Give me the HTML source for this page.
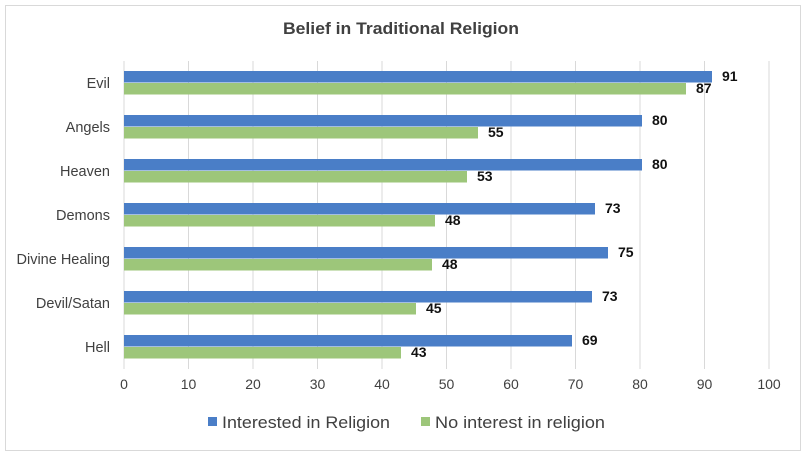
<!DOCTYPE html>
<html><head><meta charset="utf-8"><style>
body{margin:0;background:#fff}
svg text{font-family:"Liberation Sans",Arial,sans-serif}
</style></head><body>
<svg width="807" height="457" viewBox="0 0 807 457" xmlns="http://www.w3.org/2000/svg">
<rect x="0" y="0" width="807" height="457" fill="#fff"/>
<rect x="5.5" y="5.5" width="795" height="445" fill="#fff" stroke="#d9d9d9" stroke-width="1"/>
<text x="283" y="34" font-size="17" font-weight="bold" fill="#404040" textLength="236" lengthAdjust="spacingAndGlyphs">Belief in Traditional Religion</text>
<g stroke="#d9d9d9" stroke-width="1">
<line x1="124" y1="61" x2="124" y2="369"/><line x1="188.5" y1="61" x2="188.5" y2="369"/><line x1="253" y1="61" x2="253" y2="369"/><line x1="317.5" y1="61" x2="317.5" y2="369"/><line x1="382" y1="61" x2="382" y2="369"/><line x1="446.5" y1="61" x2="446.5" y2="369"/><line x1="511" y1="61" x2="511" y2="369"/><line x1="575.5" y1="61" x2="575.5" y2="369"/><line x1="640" y1="61" x2="640" y2="369"/><line x1="704.5" y1="61" x2="704.5" y2="369"/><line x1="769" y1="61" x2="769" y2="369"/>
</g>
<g fill="#4a7ec7">
<rect x="124" y="71" width="588" height="11.5"/>
<rect x="124" y="115" width="518" height="11.5"/>
<rect x="124" y="159" width="518" height="11.5"/>
<rect x="124" y="203" width="471" height="11.5"/>
<rect x="124" y="247" width="484" height="11.5"/>
<rect x="124" y="291" width="468" height="11.5"/>
<rect x="124" y="335" width="448" height="11.5"/>
</g>
<g fill="#9dc67a">
<rect x="124" y="83" width="562" height="11.5"/>
<rect x="124" y="127" width="354" height="11.5"/>
<rect x="124" y="171" width="343" height="11.5"/>
<rect x="124" y="215" width="311" height="11.5"/>
<rect x="124" y="259" width="308" height="11.5"/>
<rect x="124" y="303" width="292" height="11.5"/>
<rect x="124" y="347" width="277" height="11.5"/>
</g>
<g font-size="14" font-weight="bold" fill="#111">
<text x="722" y="81">91</text><text x="696" y="93">87</text>
<text x="652" y="125">80</text><text x="488" y="137">55</text>
<text x="652" y="169">80</text><text x="477" y="181">53</text>
<text x="605" y="213">73</text><text x="445" y="225">48</text>
<text x="618" y="257">75</text><text x="442" y="269">48</text>
<text x="602" y="301">73</text><text x="426" y="313">45</text>
<text x="582" y="345">69</text><text x="411" y="357">43</text>
</g>
<g font-size="14.5" fill="#404040" text-anchor="end">
<text x="110" y="88">Evil</text>
<text x="110" y="132">Angels</text>
<text x="110" y="176">Heaven</text>
<text x="110" y="220">Demons</text>
<text x="110" y="264">Divine Healing</text>
<text x="110" y="308">Devil/Satan</text>
<text x="110" y="352">Hell</text>
</g>
<g font-size="14" fill="#404040" text-anchor="middle">
<text x="124" y="389">0</text><text x="188.5" y="389">10</text><text x="253" y="389">20</text><text x="317.5" y="389">30</text><text x="382" y="389">40</text><text x="446.5" y="389">50</text><text x="511" y="389">60</text><text x="575.5" y="389">70</text><text x="640" y="389">80</text><text x="704.5" y="389">90</text><text x="769" y="389">100</text>
</g>
<rect x="208" y="417" width="9" height="9" fill="#4a7ec7"/>
<text x="222" y="428" font-size="16.5" fill="#404040" textLength="168" lengthAdjust="spacingAndGlyphs">Interested in Religion</text>
<rect x="421" y="417" width="9" height="9" fill="#9dc67a"/>
<text x="435" y="428" font-size="16.5" fill="#404040" textLength="170" lengthAdjust="spacingAndGlyphs">No interest in religion</text>
</svg>
</body></html>
